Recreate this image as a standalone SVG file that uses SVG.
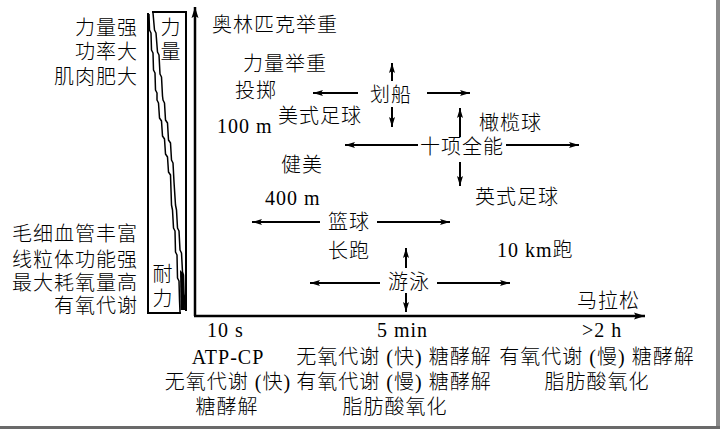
<svg xmlns="http://www.w3.org/2000/svg" width="720" height="429" viewBox="0 0 720 429">
<style>
.t{font-family:"Liberation Serif","Noto Sans CJK SC",serif;font-size:20px;font-weight:300;fill:#000;letter-spacing:1px}
.e{text-anchor:end}
.m{text-anchor:middle}
.ln{stroke:#000;stroke-width:2;fill:none}
.dg{stroke:#000;stroke-width:1.5;fill:none;stroke-linejoin:round}
.ax{stroke:#000;stroke-width:2.5;fill:none}
.ar{stroke:#000;stroke-width:2;fill:none;marker-end:url(#ah)}
</style>
<defs>
<marker id="ah" markerUnits="userSpaceOnUse" markerWidth="11" markerHeight="7" refX="10" refY="3.5" orient="auto">
<path d="M0,0.5 L10,3.5 L0,6.5 L2,3.5 z" fill="#000"/>
</marker>
<marker id="ah2" markerUnits="userSpaceOnUse" markerWidth="12" markerHeight="8" refX="11" refY="4" orient="auto">
<path d="M0,0.5 L11,4 L0,7.5 L2,4 z" fill="#000"/>
</marker>
</defs>
<rect width="720" height="429" fill="#fff"/>
<rect x="716" y="0" width="4" height="429" fill="#8a8a8a"/>
<rect x="0" y="426" width="720" height="3" fill="#6a6a6a"/>

<g id="wedge">
<polyline class="ln" points="148,13 148,313 181,313"/>
<polyline class="ln" points="152,12 186,12 186,311"/>
<polyline class="dg" points="149,14 149.5,30 151,33 151.5,50 153,53 153.5,70 155,73 155.5,90 157,93 157,100 158.5,103 159.5,118 161.5,121 162.5,136 164.5,139 165.5,154 167.5,157 168.5,172 170.5,175 171.5,205 172.5,210 173.5,228 175,231 175.5,252 177,255 177.5,278 179,281 179.5,300 180,312"/>
<polyline class="dg" points="153,13 154.5,30 156,33 157.5,52 159,55 160,74 161.5,77 162.5,96 163,100 164.5,103 165.5,120 167.5,123 168.5,140 170.5,143 171.5,160 173,163 174,182 175.5,205 176.5,210 177.5,228 179,231 180,250 181.5,253 182.5,272 183.5,275 184,294 184.5,297 185,310"/>
<polygon points="180,270 183,273 185,310 180.5,310" fill="#000"/>
<text class="t m" x="171" y="35">力</text>
<text class="t m" x="171" y="59">量</text>
<text class="t m" x="163" y="281">耐</text>
<text class="t m" x="163" y="306">力</text>
</g>

<g id="left-labels">
<text class="t e" x="138" y="35">力量强</text>
<text class="t e" x="138" y="59">功率大</text>
<text class="t e" x="138" y="84">肌肉肥大</text>
<text class="t e" x="138" y="241">毛细血管丰富</text>
<text class="t e" x="138" y="267">线粒体功能强</text>
<text class="t e" x="138" y="290">最大耗氧量高</text>
<text class="t e" x="138" y="313">有氧代谢</text>
</g>

<g id="axes">
<line class="ax" x1="195" y1="316" x2="195" y2="7" marker-end="url(#ah2)"/>
<line class="ax" x1="194" y1="316" x2="645" y2="316" marker-end="url(#ah2)"/>
</g>

<g id="n-olympic"><text class="t" x="212" y="32">奥林匹克举重</text></g>
<g id="n-powerlifting"><text class="t" x="243" y="71">力量举重</text></g>
<g id="n-throw"><text class="t" x="235" y="98">投掷</text></g>
<g id="n-americanfootball"><text class="t" x="278" y="123">美式足球</text></g>
<g id="n-100m"><text class="t" x="217" y="133">100 m</text></g>
<g id="n-rowing"><text class="t" x="370" y="102">划船</text></g>
<g id="n-rugby"><text class="t" x="479" y="130">橄榄球</text></g>
<g id="n-decathlon"><text class="t" x="420" y="154">十项全能</text></g>
<g id="n-bodybuilding"><text class="t" x="281" y="172">健美</text></g>
<g id="n-400m"><text class="t" x="265" y="205">400 m</text></g>
<g id="n-soccer"><text class="t" x="475" y="204">英式足球</text></g>
<g id="n-basketball"><text class="t" x="328" y="229">篮球</text></g>
<g id="n-longrun"><text class="t" x="328" y="258">长跑</text></g>
<g id="n-10km"><text class="t" x="497" y="257">10 km跑</text></g>
<g id="n-swim"><text class="t" x="388" y="289">游泳</text></g>
<g id="n-marathon"><text class="t" x="577" y="308">马拉松</text></g>

<g id="x-ticks">
<text class="t" x="207" y="337">10 s</text>
<text class="t" x="377" y="337">5 min</text>
<text class="t" x="582" y="337">&gt;2 h</text>
</g>

<g id="energy-10s">
<text class="t m" x="228" y="364">ATP-CP</text>
<text class="t m" x="228" y="389">无氧代谢 (快)</text>
<text class="t m" x="227" y="414">糖酵解</text>
</g>
<g id="energy-5min">
<text class="t m" x="394" y="364">无氧代谢 (快) 糖酵解</text>
<text class="t m" x="394" y="389">有氧代谢 (慢) 糖酵解</text>
<text class="t m" x="395" y="414">脂肪酸氧化</text>
</g>
<g id="energy-2h">
<text class="t m" x="597" y="364">有氧代谢 (慢) 糖酵解</text>
<text class="t m" x="597" y="389">脂肪酸氧化</text>
</g>

<g id="connectors">
<line class="ar" x1="392" y1="81" x2="392" y2="63"/>
<line class="ar" x1="392" y1="107" x2="392" y2="127"/>
<line class="ar" x1="358" y1="93" x2="313" y2="93"/>
<line class="ar" x1="427" y1="93" x2="470" y2="93"/>
<line class="ar" x1="418" y1="145" x2="345" y2="145"/>
<line class="ar" x1="506" y1="145" x2="579" y2="145"/>
<line class="ar" x1="460" y1="137" x2="460" y2="108"/>
<line class="ar" x1="460" y1="162" x2="460" y2="186"/>
<line class="ar" x1="320" y1="222" x2="252" y2="222"/>
<line class="ar" x1="377" y1="222" x2="450" y2="222"/>
<line class="ar" x1="406" y1="268" x2="406" y2="248"/>
<line class="ar" x1="406" y1="293" x2="406" y2="312"/>
<line class="ar" x1="380" y1="283" x2="310" y2="283"/>
<line class="ar" x1="437" y1="283" x2="510" y2="283"/>
</g>
</svg>
